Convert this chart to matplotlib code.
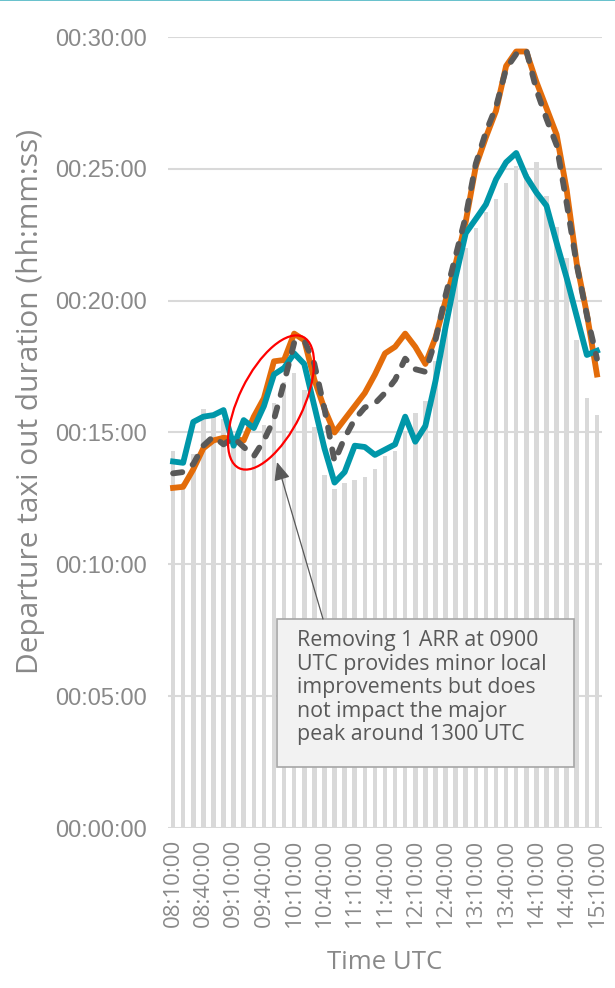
import numpy as np
import matplotlib
matplotlib.use("Agg")
import matplotlib.pyplot as plt
from matplotlib.patches import Ellipse, Rectangle, FancyArrowPatch
from matplotlib.lines import Line2D

# taxi-out duration in minutes, one value per 10 min slot 08:10 .. 15:10
bars_actual = [14.3, 13.1, 14.2, 15.9, 15.75, 15.5, 14.6, 14.4, 14.2, 15.3,
               16.1, 16.9, 17.25, 16.6, 15.2, 13.4, 12.85, 13.1, 13.2, 13.3,
               13.6, 14.1, 14.3, 15.0, 15.74, 16.2, 17.7, 19.0, 20.8, 22.0,
               22.76, 23.37, 23.85, 24.46, 25.1, 24.8, 25.26, 23.98, 22.8, 21.6,
               18.5, 16.3, 15.66]
orange_sim = [12.9, 12.94, 13.6, 14.4, 14.7, 14.8, 14.75, 14.7, 15.6, 16.3,
              17.7, 17.75, 18.75, 18.5, 17.0, 15.9, 15.0, 15.5, 16.0, 16.5,
              17.2, 18.0, 18.25, 18.75, 18.25, 17.6, 18.6, 20.0, 21.4, 23.0,
              25.1, 26.2, 27.2, 28.9, 29.45, 29.45, 28.3, 27.3, 26.3, 24.2,
              21.4, 19.5, 17.2]
teal_sim = [13.9, 13.85, 15.4, 15.6, 15.66, 15.85, 14.5, 15.47, 15.17, 16.0,
            17.2, 17.45, 18.0, 17.6, 16.0, 14.4, 13.1, 13.5, 14.5, 14.45,
            14.15, 14.35, 14.55, 15.6, 14.65, 15.25, 16.95, 19.0, 20.9, 22.56,
            23.1, 23.65, 24.6, 25.25, 25.6, 24.7, 24.1, 23.6, 22.2, 20.86,
            19.4, 17.94, 18.1]
dashed_sim = [13.45, 13.5, 13.8, 14.5, 14.85, 14.55, 14.8, 14.45, 14.1, 14.7,
              15.5, 16.9, 18.4, 18.5, 17.6, 15.9, 13.9, 14.8, 15.5, 15.95,
              16.1, 16.5, 17.0, 17.8, 17.4, 17.3, 18.5, 20.2, 21.7, 23.2,
              25.2, 26.4, 27.35, 28.8, 29.35, 29.5, 28.0, 26.9, 25.9, 23.7,
              21.35, 19.45, 17.8]
time_labels = ["08:10:00", "08:40:00", "09:10:00", "09:40:00", "10:10:00",
               "10:40:00", "11:10:00", "11:40:00", "12:10:00", "12:40:00",
               "13:10:00", "13:40:00", "14:10:00", "14:40:00", "15:10:00"]
y_minutes = [0, 5, 10, 15, 20, 25, 30]
note = ("Removing 1 ARR at 0900\nUTC provides minor local\n"
        "improvements but does\nnot impact the major\npeak around 1300 UTC")

W, H = 615, 988
fig = plt.figure(figsize=(W / 100, H / 100), dpi=100)
ax = fig.add_axes([168 / W, 1 - 828 / H, (602 - 168) / W, (828 - 37) / H])

x = np.arange(len(bars_actual))
ax.bar(x, bars_actual, width=0.45, color="#D9D9D9", zorder=2)

lw = 4.2
ax.plot(x, orange_sim, color="#E36C0A", lw=lw, solid_joinstyle="round", zorder=3, clip_on=False)
ax.plot(x, teal_sim, color="#0097A9", lw=lw, solid_joinstyle="round", zorder=4, clip_on=False)
ax.plot(x, dashed_sim, color="#595959", lw=lw, linestyle=(0, (1.6, 2.2)),
        dash_capstyle="round", dash_joinstyle="round", zorder=5, clip_on=False)

ax.set_xlim(-0.5, len(x) - 0.5)
ax.set_ylim(0, 30)
ax.set_yticks(y_minutes)
ax.set_yticklabels(["00:%02d:00" % m for m in y_minutes],
                   fontsize=17, family="Liberation Sans", color="#898989")
ax.set_xticks(x[::3])
ax.set_xticklabels(time_labels, rotation=90, fontsize=16, family="Open Sans",
                   color="#898989", va="top")
ax.tick_params(axis="y", length=0, pad=15)
ax.tick_params(axis="x", length=0, pad=8)
ax.grid(axis="y", color="#D9D9D9", lw=1.5, zorder=1)
ax.set_axisbelow(True)
for s in ax.spines.values():
    s.set_visible(False)

fig.text(31 / W, 1 - 401 / H, "Departure taxi out duration (hh:mm:ss)",
         rotation=90, ha="center", va="center", fontsize=21.5,
         family=["Liberation Sans Narrow", "Open Sans"], color="#898989")
fig.text(385 / W, 1 - 962 / H, "Time UTC", ha="center", va="center",
         fontsize=18.5, family="Open Sans", color="#898989")

# callout box + arrow + red ellipse
fig.add_artist(Rectangle((277 / W, 1 - 767 / H), 297 / W, 148 / H,
                         transform=fig.transFigure, facecolor="#F2F2F2",
                         edgecolor="#A6A6A6", lw=1.2, zorder=6))
fig.text(297 / W, 1 - 630 / H, note, ha="left", va="top", fontsize=15.4,
         family="Open Sans", color="#595959", linespacing=1.16, zorder=7)
fig.add_artist(FancyArrowPatch((3.23, (H - 619) / 100), (2.77, (H - 462) / 100),
                               transform=fig.dpi_scale_trans,
                               arrowstyle="-|>,head_length=0.8,head_width=0.35",
                               mutation_scale=14, color="#595959", lw=0.9,
                               shrinkA=0, shrinkB=0, zorder=6))
fig.add_artist(Ellipse((2.71, (H - 402.5) / 100), 1.46, 0.64, angle=64,
                       transform=fig.dpi_scale_trans, fill=False,
                       edgecolor="#FF0000", lw=1.6, zorder=6))
fig.add_artist(Line2D([0, 1], [0.9995, 0.9995], transform=fig.transFigure,
                      color="#4DB6C4", lw=1.2))

fig.savefig("out.png", dpi=100)
